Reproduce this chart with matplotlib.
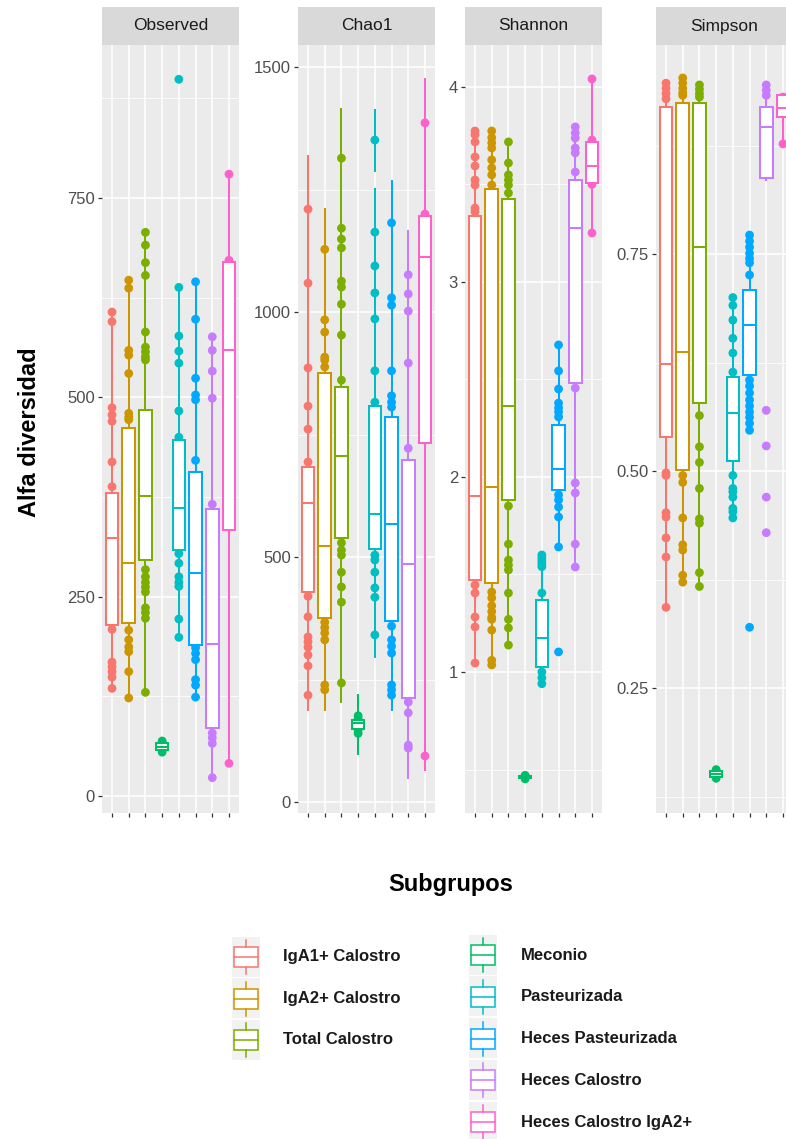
import matplotlib
matplotlib.use('Agg')
import matplotlib.pyplot as plt
from matplotlib.patches import Rectangle
from matplotlib.ticker import FixedLocator, NullFormatter

plt.rcParams['font.family'] = ['Liberation Sans', 'DejaVu Sans']

groups = ["IgA1+ Calostro", "IgA2+ Calostro", "Total Calostro", "Meconio",
          "Pasteurizada", "Heces Pasteurizada", "Heces Calostro", "Heces Calostro IgA2+"]
colors = ["#F8766D", "#CD9600", "#7CAE00", "#00BE67",
          "#00BFC4", "#00A9FF", "#C77CFF", "#FF61CC"]
metrics = ["Observed", "Chao1", "Shannon", "Simpson"]

# ---- Observed ----
obs_q1 = [215, 217, 296, 58, 309, 189, 85, 334]
obs_med = [324, 292, 376, 62, 361, 280, 191, 559]
obs_q3 = [380, 461, 484, 66, 447, 406, 360, 670]
obs_lo = [135, 123, 130, 54, 199, 124, 23, 41]
obs_hi = [607, 647, 707, 70, 638, 645, 576, 780]
obs_pts = [
    [607, 595, 487, 478, 470, 419, 388, 209, 168, 162, 156, 149, 135],
    [647, 637, 559, 553, 530, 480, 475, 472, 208, 196, 187, 181, 156, 123],
    [707, 691, 669, 653, 582, 563, 557, 551, 547, 284, 275, 268, 262, 256, 236, 230, 223, 130],
    [55, 58, 60, 62, 64, 67, 69],
    [899, 638, 577, 558, 543, 483, 450, 304, 292, 275, 268, 263, 222, 199],
    [645, 598, 524, 503, 497, 421, 186, 179, 171, 146, 139, 124],
    [576, 559, 533, 499, 366, 79, 73, 66, 23],
    [780, 672, 41],
]

# ---- Chao1 ----
chao_q1 = [429, 376, 539, 150, 516, 369, 212, 733]
chao_med = [610, 522, 706, 161, 588, 567, 486, 1112]
chao_q3 = [684, 876, 847, 168, 808, 786, 698, 1196]
chao_lo = [188, 188, 204, 98, 296, 188, 49, 65]
chao_hi = [1318, 1210, 1414, 218, 1251, 1267, 1165, 1476]
chao_pts = [
    [1210, 1059, 886, 808, 761, 694, 420, 378, 337, 327, 316, 300, 278, 218],
    [1128, 984, 959, 908, 902, 888, 367, 356, 345, 331, 239, 229],
    [1314, 1171, 1149, 1131, 1063, 1051, 1016, 953, 861, 529, 514, 504, 469, 439, 408, 243],
    [140, 147, 155, 163, 170, 176],
    [1351, 1163, 1094, 1039, 986, 880, 816, 504, 494, 469, 437, 418, 341],
    [1182, 1029, 1014, 880, 829, 816, 806, 359, 331, 318, 304, 239, 229, 218],
    [1076, 1037, 1002, 896, 722, 204, 182, 116, 110],
    [1386, 1200, 94],
]
# standard-error bar of the highest Pasteurizada Chao1 value
chao_se_group = "Pasteurizada"
chao_se_range = (1285, 1414)

# ---- Shannon ----
sha_q1 = [1.472, 1.456, 1.882, 0.456, 1.026, 1.933, 2.482, 3.508]
sha_med = [1.903, 1.949, 2.364, 0.462, 1.174, 2.041, 3.277, 3.595]
sha_q3 = [3.338, 3.477, 3.426, 0.468, 1.369, 2.267, 3.523, 3.718]
sha_lo = [1.046, 1.036, 1.138, 0.450, 0.940, 1.641, 1.538, 3.251]
sha_hi = [3.774, 3.774, 3.718, 0.472, 1.600, 2.677, 3.795, 4.041]
sha_pts = [
    [3.774, 3.754, 3.718, 3.641, 3.595, 3.523, 3.497, 3.379, 3.359, 1.446, 1.405, 1.282, 1.231, 1.046],
    [3.774, 3.740, 3.713, 3.687, 3.626, 3.585, 3.549, 3.497, 1.41, 1.38, 1.34, 1.31, 1.28, 1.27, 1.215, 1.06, 1.036],
    [3.718, 3.610, 3.549, 3.523, 3.497, 3.456, 1.851, 1.656, 1.574, 1.549, 1.523, 1.405, 1.27, 1.226, 1.138],
    [0.452, 0.458, 0.462, 0.466, 0.470],
    [1.600, 1.585, 1.570, 1.555, 1.540, 1.405, 1.000, 0.970, 0.940],
    [2.677, 2.544, 2.451, 2.379, 2.354, 2.333, 2.308, 1.908, 1.882, 1.846, 1.795, 1.641, 1.103],
    [3.795, 3.764, 3.738, 3.687, 3.662, 3.564, 2.456, 1.969, 1.918, 1.656, 1.538],
    [4.041, 3.728, 3.500, 3.251],
]

# ---- Simpson ----
simp_q1 = [0.539, 0.501, 0.578, 0.148, 0.512, 0.611, 0.838, 0.908]
simp_med = [0.623, 0.637, 0.758, 0.151, 0.567, 0.668, 0.897, 0.918]
simp_q3 = [0.919, 0.924, 0.924, 0.154, 0.608, 0.709, 0.920, 0.933]
simp_lo = [0.343, 0.372, 0.367, 0.145, 0.446, 0.547, 0.835, 0.877]
simp_hi = [0.947, 0.953, 0.945, 0.157, 0.700, 0.772, 0.945, 0.935]
simp_pts = [
    [0.947, 0.941, 0.935, 0.929, 0.498, 0.495, 0.452, 0.447, 0.423, 0.401, 0.343],
    [0.953, 0.947, 0.941, 0.936, 0.933, 0.495, 0.487, 0.446, 0.415, 0.409, 0.380, 0.372],
    [0.945, 0.940, 0.935, 0.931, 0.564, 0.528, 0.510, 0.480, 0.445, 0.440, 0.383, 0.367],
    [0.146, 0.149, 0.152, 0.156],
    [0.700, 0.691, 0.674, 0.653, 0.636, 0.614, 0.495, 0.480, 0.476, 0.470, 0.457, 0.453, 0.446],
    [0.772, 0.765, 0.758, 0.751, 0.745, 0.740, 0.726, 0.605, 0.598, 0.590, 0.582, 0.575,
     0.568, 0.562, 0.555, 0.547, 0.320],
    [0.945, 0.939, 0.933, 0.570, 0.529, 0.470, 0.429],
    [0.931, 0.877],
]

obs_ticks = [0, 250, 500, 750]
chao_ticks = [0, 500, 1000, 1500]
sha_ticks = [1, 2, 3, 4]
simp_ticks = [0.25, 0.50, 0.75]
obs_labels = ["0", "250", "500", "750"]
chao_labels = ["0", "500", "1000", "1500"]
sha_labels = ["1", "2", "3", "4"]
simp_labels = ["0.25", "0.50", "0.75"]

# ------------------------------------------------------------------
W, H = 786, 1139
fig = plt.figure(figsize=(W / 100, H / 100), dpi=100)
fig.patch.set_facecolor('white')

panel_x = [102, 298, 465, 656]
panel_w = 137
panel_top, panel_bot = 45, 813
strip_top = 7

panels = [
    (obs_q1, obs_med, obs_q3, obs_lo, obs_hi, obs_pts, obs_ticks, obs_labels, (-21.3, 942)),
    (chao_q1, chao_med, chao_q3, chao_lo, chao_hi, chao_pts, chao_ticks, chao_labels, (-22.4, 1545)),
    (sha_q1, sha_med, sha_q3, sha_lo, sha_hi, sha_pts, sha_ticks, sha_labels, (0.277, 4.215)),
    (simp_q1, simp_med, simp_q3, simp_lo, simp_hi, simp_pts, simp_ticks, simp_labels, (0.106, 0.991)),
]

lw = 1.45
positions = list(range(1, len(groups) + 1))

for k, (metric, spec) in enumerate(zip(metrics, panels)):
    q1, med, q3, lo, hi, pts, ticks, tlabels, ylim = spec
    x0 = panel_x[k]
    ax = fig.add_axes([x0 / W, 1 - panel_bot / H, panel_w / W, (panel_bot - panel_top) / H])
    ax.set_facecolor('#EBEBEB')
    for s in ax.spines.values():
        s.set_visible(False)

    stats = [dict(med=m, q1=a, q3=b, whislo=l, whishi=h)
             for a, m, b, l, h in zip(q1, med, q3, lo, hi)]
    bp = ax.bxp(stats, positions=positions, widths=0.75, patch_artist=True,
                showcaps=False, showfliers=False)
    for i, (box, mline) in enumerate(zip(bp['boxes'], bp['medians'])):
        box.set(facecolor='white', edgecolor=colors[i], linewidth=lw, zorder=4)
        mline.set(color=colors[i], linewidth=lw, zorder=5, solid_capstyle='butt')
    for j, wl in enumerate(bp['whiskers']):
        wl.set(color=colors[j // 2], linewidth=lw, zorder=2)
    for i, vals in enumerate(pts):
        ax.scatter([positions[i]] * len(vals), vals, s=40, color=colors[i],
                   edgecolors='none', zorder=3)
    if metric == "Chao1":
        gi = groups.index(chao_se_group)
        ax.vlines(positions[gi], chao_se_range[0], chao_se_range[1],
                  color=colors[gi], linewidth=lw, zorder=2)

    ax.set_xlim(0.4, 8.6)
    ax.set_ylim(*ylim)
    ax.set_axisbelow(True)
    ax.xaxis.set_major_locator(FixedLocator(positions))
    ax.xaxis.set_major_formatter(NullFormatter())
    ax.yaxis.set_major_locator(FixedLocator(ticks))
    step = ticks[1] - ticks[0]
    minors = [ticks[0] - step / 2] + [t + step / 2 for t in ticks]
    ax.yaxis.set_minor_locator(FixedLocator(minors))
    ax.grid(which='major', color='white', linewidth=1.1)
    ax.grid(which='minor', axis='y', color='white', linewidth=0.55)
    ax.set_yticklabels(tlabels)
    ax.tick_params(axis='both', which='major', length=3, width=0.9, color='#333333',
                   labelsize=12, labelcolor='#4D4D4D', pad=2)
    ax.tick_params(axis='y', which='minor', length=0)

    # strip
    sax = fig.add_axes([x0 / W, 1 - panel_top / H, panel_w / W, (panel_top - strip_top) / H])
    sax.set_facecolor('#D9D9D9')
    sax.set_xticks([])
    sax.set_yticks([])
    for s in sax.spines.values():
        s.set_visible(False)
    sax.text(0.5, 0.5, metric, ha='center', va='center', fontsize=12.5,
             color='#1A1A1A', transform=sax.transAxes)

# axis titles
fig.text(30 / W, 1 - 432 / H, "Alfa diversidad", rotation=90, ha='center', va='center',
         fontsize=17, fontweight='bold', color='black')
fig.text(451 / W, 1 - 885 / H, "Subgrupos", ha='center', va='center',
         fontsize=17, fontweight='bold', color='black')

# legend drawn in pixel coordinates
lax = fig.add_axes([0, 0, 1, 1])
lax.set_xlim(0, W)
lax.set_ylim(H, 0)
lax.axis('off')
col_split = 3
key_w, key_h = 28, 41
for i, g in enumerate(groups):
    if i < col_split:
        kx, cy = 232, 957 + i * 41.5
        tx = 283
    else:
        kx, cy = 469, 955 + (i - col_split) * 41.8
        tx = 521
    lax.add_patch(Rectangle((kx, cy - key_h / 2), key_w, key_h - 1, facecolor='#F2F2F2',
                            edgecolor='none', zorder=1))
    bx0, bx1 = kx + 2, kx + key_w - 2
    lax.add_patch(Rectangle((bx0, cy - 10), bx1 - bx0, 20, facecolor='white',
                            edgecolor=colors[i], linewidth=1.1, zorder=2))
    lax.plot([bx0, bx1], [cy, cy], color=colors[i], linewidth=1.1, zorder=3)
    xm = kx + key_w / 2
    lax.plot([xm, xm], [cy - 17, cy - 10], color=colors[i], linewidth=1.1, zorder=3)
    lax.plot([xm, xm], [cy + 10, cy + 17], color=colors[i], linewidth=1.1, zorder=3)
    lax.text(tx, cy, g, ha='left', va='center', fontsize=12, fontweight='bold', color='#1A1A1A')

fig.savefig('out.png', dpi=100, facecolor='white')
